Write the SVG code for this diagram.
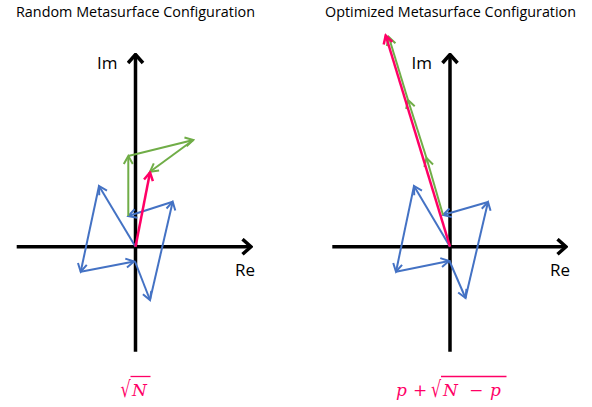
<svg xmlns="http://www.w3.org/2000/svg" width="592" height="407" viewBox="0 0 592 407">
<defs>
<style>
.title{font-family:"Open Sans","Liberation Sans",sans-serif;font-size:14.5px;fill:#000}
.lbl{font-family:"Open Sans","Liberation Sans",sans-serif;font-size:17px;fill:#000}
.axis{stroke:#000;stroke-width:3.5;fill:none}
.b{stroke:#4472C4;stroke-width:2;fill:none;marker-end:url(#ab)}
.g{stroke:#70AD47;stroke-width:2;fill:none;marker-end:url(#ag)}
.r{stroke:#FF0066;stroke-width:2.5;fill:none;marker-end:url(#ar)}
.math{font-family:"DejaVu Serif","Liberation Serif",serif;font-style:italic;font-size:17px;fill:#FF0066}
.mathn{font-family:"DejaVu Serif","Liberation Serif",serif;font-size:17px;fill:#FF0066}
.rad{font-family:"DejaVu Serif","Liberation Serif",serif;font-size:16px;fill:#FF0066}
.vin{stroke:#FF0066;stroke-width:1.3}
</style>
<marker id="ab" markerUnits="userSpaceOnUse" viewBox="-10 -6 12 12" refX="0" refY="0" markerWidth="12" markerHeight="12" orient="auto"><path d="M-8,-4.5 L0,0 L-8,4.5" fill="none" stroke="#4472C4" stroke-width="2"/></marker>
<marker id="ag" markerUnits="userSpaceOnUse" viewBox="-10 -6 12 12" refX="0" refY="0" markerWidth="12" markerHeight="12" orient="auto"><path d="M-8,-4.5 L0,0 L-8,4.5" fill="none" stroke="#70AD47" stroke-width="2"/></marker>
<marker id="ar" markerUnits="userSpaceOnUse" viewBox="-10 -6 12 12" refX="0" refY="0" markerWidth="12" markerHeight="12" orient="auto"><path d="M-8,-4.5 L0,0 L-8,4.5" fill="none" stroke="#FF0066" stroke-width="2.5"/></marker>
<marker id="ax" markerUnits="userSpaceOnUse" viewBox="-12 -9 14 18" refX="0" refY="0" markerWidth="14" markerHeight="18" orient="auto"><path d="M-8.5,-7.5 L0,0 L-8.5,7.5" fill="none" stroke="#000" stroke-width="3.5"/></marker>
</defs>
<rect width="592" height="407" fill="#fff"/>

<g id="left-panel">
<text class="title" x="16" y="17" textLength="239" lengthAdjust="spacingAndGlyphs">Random Metasurface Configuration</text>
<g id="left-axes">
<line class="axis" x1="16.7" y1="246.7" x2="251" y2="246.7" marker-end="url(#ax)"/>
<line class="axis" x1="135.5" y1="351.7" x2="135.5" y2="54.5" marker-end="url(#ax)"/>
<text class="lbl" x="97" y="68.5">Im</text>
<text class="lbl" x="235" y="276">Re</text>
</g>
<g id="left-vectors">
<line class="b" x1="135.5" y1="246.7" x2="99" y2="186"/>
<line class="b" x1="99" y1="186" x2="80.7" y2="271.7"/>
<line class="b" x1="80.7" y1="271.7" x2="134" y2="261.5"/>
<line class="b" x1="135" y1="261.5" x2="150" y2="300"/>
<line class="b" x1="150" y1="300" x2="172.7" y2="201.7"/>
<line class="b" x1="172.7" y1="201.7" x2="128.3" y2="216"/>
<line class="g" x1="128.3" y1="216" x2="128.3" y2="156"/>
<line class="g" x1="128.3" y1="156" x2="193.3" y2="140"/>
<line class="g" x1="193.3" y1="140" x2="150" y2="171.7"/>
<line class="r" x1="135.5" y1="246.7" x2="150" y2="172.5"/>
</g>
<g id="left-formula">
<text class="rad" transform="translate(120.5,397) scale(1,1.4)">√</text>
<line class="vin" x1="130.5" y1="376.5" x2="150.5" y2="376.5"/>
<text class="math" x="132" y="396">N</text>
</g>
</g>

<g id="right-panel">
<text class="title" x="325" y="17" textLength="251" lengthAdjust="spacingAndGlyphs">Optimized Metasurface Configuration</text>
<g id="right-axes">
<line class="axis" x1="332.3" y1="246.7" x2="566" y2="246.7" marker-end="url(#ax)"/>
<line class="axis" x1="450" y1="351.7" x2="450" y2="54.5" marker-end="url(#ax)"/>
<text class="lbl" x="411.5" y="68.5">Im</text>
<text class="lbl" x="550" y="276">Re</text>
</g>
<g id="right-vectors">
<line class="b" x1="450" y1="246.7" x2="414" y2="186"/>
<line class="b" x1="414" y1="186" x2="396" y2="271.7"/>
<line class="b" x1="396" y1="271.7" x2="449" y2="261"/>
<line class="b" x1="449.5" y1="261" x2="465.5" y2="298"/>
<line class="b" x1="465.5" y1="298" x2="488" y2="202"/>
<line class="b" x1="488" y1="202" x2="443" y2="215"/>
<line class="g" x1="443" y1="215" x2="426.5" y2="158"/>
<line class="g" x1="426.5" y1="158" x2="408" y2="100"/>
<line class="g" x1="408" y1="100" x2="388.8" y2="37"/>
<line class="r" x1="450" y1="246.7" x2="385.7" y2="35.5"/>
</g>
<g id="right-formula">
<text class="math" x="396" y="396">p</text>
<text class="mathn" x="413" y="396">+</text>
<text class="rad" transform="translate(431,397) scale(1,1.4)">√</text>
<line class="vin" x1="441" y1="376.5" x2="506.5" y2="376.5"/>
<text class="math" x="443" y="396">N</text>
<text class="mathn" x="469" y="396">−</text>
<text class="math" x="490" y="396">p</text>
</g>
</g>
</svg>
